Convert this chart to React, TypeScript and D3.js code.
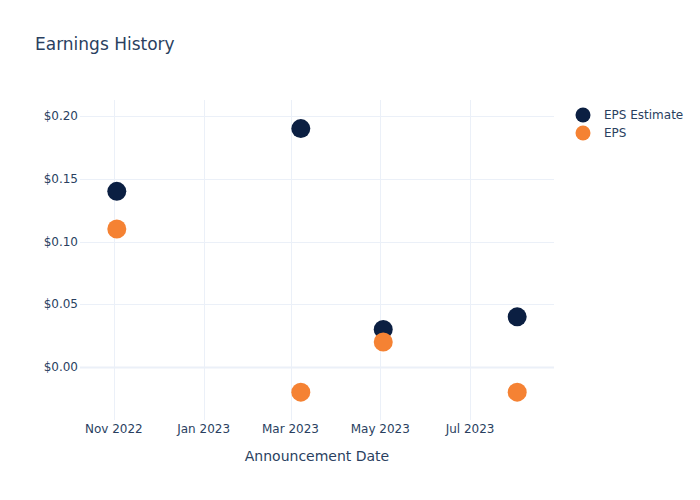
import React from "react";
import * as d3 from "d3";

const dates = ["2022-11-03", "2023-03-08", "2023-05-03", "2023-08-02"];
const epsEstimate = [0.14, 0.19, 0.03, 0.04];
const eps = [0.11, -0.02, 0.02, -0.02];
const yTicks = [0, 0.05, 0.1, 0.15, 0.2];
const xTicks = ["2022-11-01", "2023-01-01", "2023-03-01", "2023-05-01", "2023-07-01"];
const seriesNames = ["EPS Estimate", "EPS"];
const colors = ["#0b1f42", "#f58233"];

const W = 700, H = 500;
const L = 80, R = 554, T = 100, B = 420;
const font = "'DejaVu Sans', Verdana, sans-serif";
const textColor = "#2a3f5f";
const grid = "#ebf0f8";

export default function App() {
  const parse = d3.utcParse("%Y-%m-%d");
  const x = d3.scaleUtc()
    .domain([parse("2022-10-09")!, parse("2023-08-27")!])
    .range([L, R]);
  const y = d3.scaleLinear().domain([-0.0422, 0.2128]).range([B, T]);
  const fmtX = d3.utcFormat("%b %Y");
  const series = [epsEstimate, eps];
  return (
    <svg width={W} height={H} style={{ position: "absolute", left: 0, top: 0, background: "#fff" }} fontFamily={font}>
      <rect x={0} y={0} width={W} height={H} fill="#fff" />
      <text x={35} y={50} fontSize={17} fill={textColor}>Earnings History</text>
      {xTicks.map((t) => {
        const xx = Math.round(x(parse(t)!)) + 0.5;
        return <line key={t} x1={xx} x2={xx} y1={T} y2={B} stroke={grid} strokeWidth={1} />;
      })}
      {yTicks.map((t) => {
        const yy = Math.round(y(t)) + 0.5;
        return (
          <line key={t} x1={L} x2={R} y1={yy} y2={yy} stroke={grid} strokeWidth={t === 0 ? 2 : 1} />
        );
      })}
      {yTicks.map((t) => (
        <text key={"l" + t} x={L - 2} y={y(t)} dy="0.35em" textAnchor="end" fontSize={12} fill={textColor}>
          {"$" + d3.format(".2f")(t)}
        </text>
      ))}
      {xTicks.map((t) => (
        <text key={"x" + t} x={x(parse(t)!)} y={B + 13} textAnchor="middle" fontSize={12} fill={textColor}>
          {fmtX(parse(t)!)}
        </text>
      ))}
      <text x={(L + R) / 2} y={461} textAnchor="middle" fontSize={14} fill={textColor}>Announcement Date</text>
      {series.map((s, si) =>
        s.map((v, i) => (
          <circle key={si + "-" + i} cx={x(parse(dates[i])!)} cy={y(v)} r={9.5} fill={colors[si]} />
        ))
      )}
      {seriesNames.map((n, i) => (
        <g key={n}>
          <circle cx={583} cy={115 + i * 18} r={7.5} fill={colors[i]} />
          <text x={604} y={115 + i * 18} dy="0.35em" fontSize={12} fill={textColor}>{n}</text>
        </g>
      ))}
    </svg>
  );
}
